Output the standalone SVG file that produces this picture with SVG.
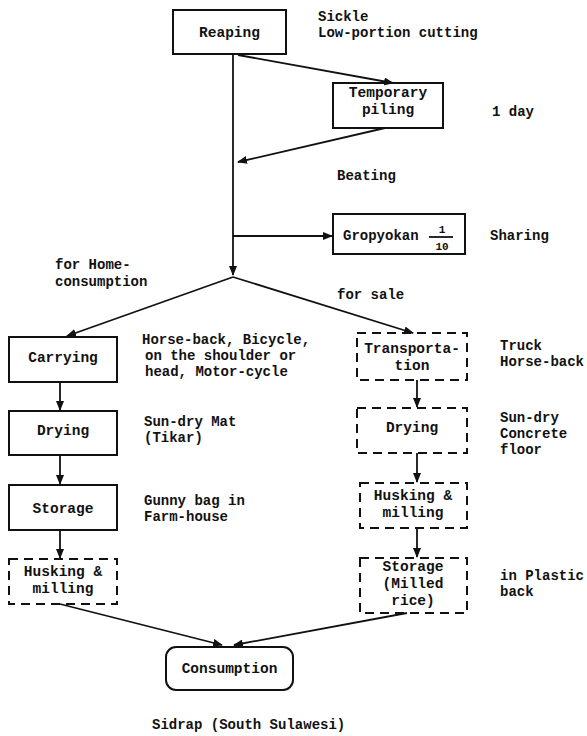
<svg xmlns="http://www.w3.org/2000/svg" width="587" height="736" viewBox="0 0 587 736">
<defs>
<marker id="ah" markerWidth="10" markerHeight="8" refX="9" refY="4" orient="auto" markerUnits="userSpaceOnUse">
<path d="M0,0 L10,4 L0,8 Z" fill="#111"/>
</marker>
<style>
.box{fill:none;stroke:#111;stroke-width:2}
.dbox{fill:none;stroke:#111;stroke-width:2;stroke-dasharray:9 6}
.c{fill:none;stroke:#111;stroke-width:1.8;marker-end:url(#ah)}
.l{fill:none;stroke:#111;stroke-width:1.8}
text{font-family:"Liberation Mono","DejaVu Sans Mono",monospace;font-size:14px;fill:#111;font-weight:bold}
.m{text-anchor:middle;font-size:14.5px}
.f{font-size:11px;text-anchor:middle}
</style>
</defs>
<rect width="587" height="736" fill="#fff"/>
<g id="connectors">
<path class="c" d="M233,54 L233,275"/>
<path class="c" d="M238,55 L393,83"/>
<path class="c" d="M385,128 L238,162"/>
<path class="c" d="M233,236 L332,236"/>
<path class="c" d="M233,277 L67,336"/>
<path class="c" d="M233,277 L413,333"/>
<path class="c" d="M60,382 L60,410"/>
<path class="c" d="M60,455 L60,484"/>
<path class="c" d="M60,530 L60,558"/>
<path class="c" d="M417,380 L417,407"/>
<path class="c" d="M417,453 L417,482"/>
<path class="c" d="M417,528 L417,557"/>
<path class="c" d="M60,604 L222,645"/>
<path class="c" d="M407,613 L234,645"/>
</g>
<g id="reaping"><rect class="box" x="173" y="10" width="113" height="44"/><text class="m" x="229.5" y="37">Reaping</text></g>
<g id="temporary-piling"><rect class="box" x="333" y="83" width="110" height="45"/><text class="m" x="388" y="97">Temporary</text><text class="m" x="388" y="114">piling</text></g>
<g id="gropyokan"><rect class="box" x="333" y="214" width="132" height="40"/><text x="343" y="240">Gropyokan</text><text class="f" x="442" y="233">1</text><path class="l" d="M429,237 L453,237"/><text class="f" x="442" y="250">10</text></g>
<g id="carrying"><rect class="box" x="9" y="337" width="108" height="45"/><text class="m" x="63" y="362">Carrying</text></g>
<g id="drying-home"><rect class="box" x="9" y="411" width="108" height="44"/><text class="m" x="63" y="435">Drying</text></g>
<g id="storage-home"><rect class="box" x="9" y="485" width="108" height="45"/><text class="m" x="63" y="513">Storage</text></g>
<g id="husking-home"><rect class="dbox" x="9" y="559" width="108" height="45"/><text class="m" x="63" y="576">Husking &amp;</text><text class="m" x="63" y="593">milling</text></g>
<g id="transportation"><rect class="dbox" x="357" y="333" width="110" height="47"/><text class="m" x="412" y="353">Transporta-</text><text class="m" x="412" y="370">tion</text></g>
<g id="drying-sale"><rect class="dbox" x="357" y="408" width="110" height="45"/><text class="m" x="412" y="432">Drying</text></g>
<g id="husking-sale"><rect class="dbox" x="360" y="483" width="107" height="45"/><text class="m" x="413" y="500">Husking &amp;</text><text class="m" x="413" y="517">milling</text></g>
<g id="storage-sale"><rect class="dbox" x="360" y="558" width="107" height="55"/><text class="m" x="413" y="571">Storage</text><text class="m" x="413" y="588">(Milled</text><text class="m" x="413" y="605">rice)</text></g>
<g id="consumption"><rect class="box" x="166" y="647" width="127" height="43" rx="10"/><text class="m" x="229.5" y="673">Consumption</text></g>
<g id="notes">
<text x="318" y="21">Sickle</text>
<text x="318" y="37">Low-portion cutting</text>
<text x="492" y="116">1 day</text>
<text x="337" y="180">Beating</text>
<text x="490" y="240">Sharing</text>
<text x="55" y="269">for Home-</text>
<text x="55" y="286">consumption</text>
<text x="337" y="299">for sale</text>
<text x="142" y="344">Horse-back, Bicycle,</text>
<text x="145" y="360">on the shoulder or</text>
<text x="145" y="376">head, Motor-cycle</text>
<text x="144" y="426">Sun-dry Mat</text>
<text x="144" y="442">(Tikar)</text>
<text x="144" y="505">Gunny bag in</text>
<text x="144" y="521">Farm-house</text>
<text x="500" y="350">Truck</text>
<text x="500" y="366">Horse-back</text>
<text x="500" y="422">Sun-dry</text>
<text x="500" y="438">Concrete</text>
<text x="500" y="454">floor</text>
<text x="500" y="580">in Plastic</text>
<text x="500" y="596">back</text>
<text x="152" y="729">Sidrap (South Sulawesi)</text>
</g>
</svg>
